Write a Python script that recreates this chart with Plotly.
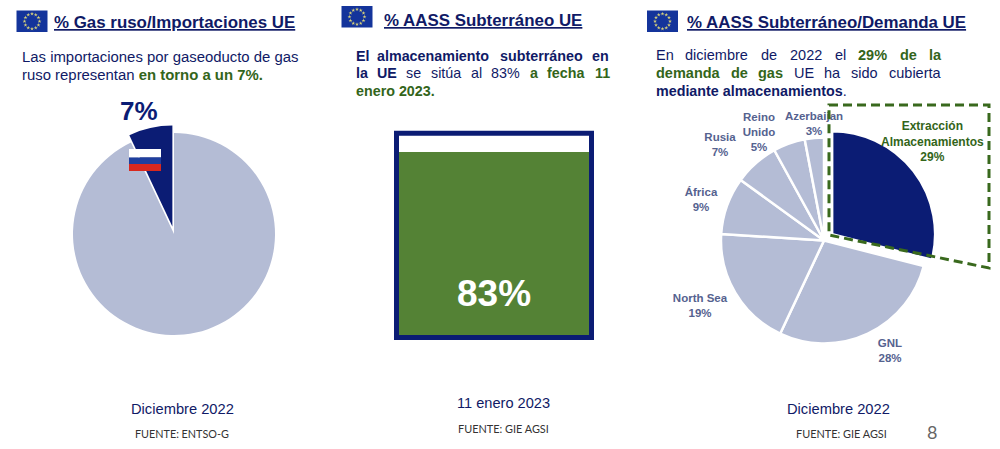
import math
import plotly.graph_objects as go

# ---- data
import_labels = ["Gas ruso", "Resto"]
import_values = [7, 93]
storage_label = ["AASS"]
storage_values = [83]
demand_labels = ["Extracción Almacenamientos", "GNL", "North Sea", "África", "Rusia", "Reino Unido", "Azerbaijan"]
demand_values = [29, 28, 19, 9, 7, 5, 3]

NAVY = "#0b1c74"
TEXTNAVY = "#101a66"
GREY = "#b4bcd5"
GREEN = "#548235"
TGREEN = "#33651a"
LABEL = "#55628f"
W, H = 1000, 449
SANS = "Liberation Sans"


def pie_domain(cx, cy, r, pull):
    half = r * (1 + pull)
    return dict(x=[(cx - half) / W, (cx + half) / W], y=[(H - cy - half) / H, (H - cy + half) / H])


fig = go.Figure()

# left pie
pull_l = 0.075
fig.add_trace(go.Pie(labels=import_labels, values=import_values, sort=False, direction="clockwise",
                     rotation=-import_values[0] * 3.6, pull=[pull_l, 0], textinfo="none", hoverinfo="label+percent",
                     marker=dict(colors=[NAVY, GREY], line=dict(width=0)),
                     domain=pie_domain(174, 234, 101, pull_l), showlegend=False))

# right pie
pull_r = 0.1
fig.add_trace(go.Pie(labels=demand_labels, values=demand_values, sort=False, direction="clockwise",
                     rotation=0, pull=[pull_r] + [0] * 6, textinfo="none", hoverinfo="label+percent",
                     marker=dict(colors=[NAVY] + [GREY] * 6, line=dict(color="white", width=2.5)),
                     domain=pie_domain(824, 240.5, 103, pull_r), showlegend=False))

# middle bar
fig.add_trace(go.Bar(x=storage_label, y=storage_values, width=1, marker=dict(color=GREEN, line=dict(width=0)),
                     xaxis="x", yaxis="y", showlegend=False))

# overlay text of pie labels (scatter so the dashed shape passes above it)
label_xy = {
    "GNL": (890, 352), "North Sea": (700, 307), "África": (701, 201), "Rusia": (720, 146),
    "Reino Unido": (759, 133), "Azerbaijan": (814, 125),
}
label_txt, label_x, label_y = [], [], []
for name, val in zip(demand_labels, demand_values):
    if name in label_xy:
        shown = "Reino<br>Unido" if name == "Reino Unido" else name
        label_txt.append(f"{shown}<br>{val}%")
        label_x.append(label_xy[name][0])
        label_y.append(label_xy[name][1])
fig.add_trace(go.Scatter(x=label_x, y=label_y, text=label_txt, mode="text", xaxis="x2", yaxis="y2",
                         textfont=dict(family=SANS, size=11.5, color=LABEL, weight="bold"),
                         textposition="middle center", showlegend=False, hoverinfo="skip"))

# EU flag stars
flags = [(16.5, 10.5), (341.5, 6), (647, 10.5)]
sx, sy = [], []
for fx, fy in flags:
    for k in range(12):
        a = math.radians(30 * k)
        sx.append(fx + 15.5 + 7.5 * math.cos(a))
        sy.append(fy + 10.8 + 7.5 * math.sin(a))
fig.add_trace(go.Scatter(x=sx, y=sy, mode="markers", xaxis="x2", yaxis="y2", showlegend=False, hoverinfo="skip",
                         marker=dict(symbol="star", size=3, color="#d8d27a", line=dict(width=0))))

shapes = []
for fx, fy in flags:
    shapes.append(dict(type="rect", xref="x2", yref="y2", x0=fx, x1=fx + 31, y0=fy, y1=fy + 21.5,
                       fillcolor="#14349b", line=dict(width=0), layer="below"))
# frame of the storage bar
shapes.append(dict(type="rect", xref="x2", yref="y2", x0=396.5, x1=591.5, y0=133.3, y1=337.5,
                   line=dict(color=NAVY, width=5), fillcolor="rgba(0,0,0,0)", layer="above"))
# Russian flag
for y0, y1, c in [(149, 157.5, "white"), (157.5, 164, "#1f3f9e"), (164, 171, "#d8281e")]:
    shapes.append(dict(type="rect", xref="x2", yref="y2", x0=129, x1=161, y0=y0, y1=y1,
                       fillcolor=c, line=dict(width=0), layer="above"))
# dashed callout
shapes.append(dict(type="path", xref="x2", yref="y2", path="M 829 105 L 989 105 L 989 268 L 829 235 Z",
                   line=dict(color="#39691d", width=3, dash="9px,5px"), layer="above"))

ann = []


def txt(x, y, s, size=14.9, color=TEXTNAVY, anchor="left", family=SANS):
    ann.append(dict(xref="x2", yref="y2", x=x, y=y, text=s, showarrow=False, xanchor=anchor, yanchor="middle",
                    font=dict(family=family, size=size, color=color), borderpad=0, borderwidth=0))


def gr(s):
    return f'<span style="color:{TGREEN}">{s}</span>'


# titles
txt(54, 22, "<b><u>% Gas ruso/Importaciones UE</u></b>", 16.9)
txt(384, 20, "<b><u>% AASS Subterráneo UE</u></b>", 16.9)
txt(687, 22, "<b><u>% AASS Subterráneo/Demanda UE</u></b>", 16.9)

# left text
txt(22, 57, "Las importaciones por gaseoducto de gas")
txt(22, 75, "ruso representan " + gr("<b>en torno a un 7%.</b>"))

# middle text (justified: word by word)
for x, w in [(356, "<b>El</b>"), (377, "<b>almacenamiento</b>"), (500, "<b>subterráneo</b>"), (592, "<b>en</b>")]:
    txt(x, 56, w, 14.3)
for x, w in [(356, "<b>la</b>"), (377, "<b>UE</b>"), (406, "se"), (431, "sitúa"), (471, "al"), (491, "83%"),
             (530, gr("<b>a</b>")), (547, gr("<b>fecha</b>")), (595, gr("<b>11</b>"))]:
    txt(x, 73, w, 14.3)
txt(356, 91, gr("<b>enero 2023.</b>"), 14.3)

# right text
for x, w in [(656, "En"), (685, "diciembre"), (761, "de"), (790, "2022"), (835, "el"), (858, gr("<b>29%</b>")),
             (900, gr("<b>de</b>")), (929, gr("<b>la</b>"))]:
    txt(x, 55, w, 14.5)
for x, w in [(656, gr("<b>demanda</b>")), (731, gr("<b>de</b>")), (758, gr("<b>gas</b>")), (794, "UE"), (824, "ha"),
             (851, "sido"), (889, "cubierta")]:
    txt(x, 73, w, 14.5)
txt(656, 91, "<b>mediante almacenamientos</b>.", 14.3)

# big values
txt(139, 111, f"<b>{import_values[0]}%</b>", 26, NAVY, "center")
txt(494, 293, f"<b>{storage_values[0]}%</b>", 37, "white", "center")

# callout label
txt(932, 141, f"<b>Extracción<br>Almacenamientos<br>{demand_values[0]}%</b>", 12, TGREEN, "center")

# footers
txt(182, 409, "Diciembre 2022", 14.7, TEXTNAVY, "center")
txt(503.5, 403, "11 enero 2023", 14.6, TEXTNAVY, "center")
txt(838, 409, "Diciembre 2022", 14.7, TEXTNAVY, "center")
txt(181.5, 433, "FUENTE: ENTSO-G", 10.8, "#333333", "center", "Lato")
txt(503.5, 428, "FUENTE: GIE AGSI", 10.9, "#333333", "center", "Lato")
txt(841.5, 433, "FUENTE: GIE AGSI", 10.9, "#333333", "center", "Lato")
txt(932, 432, "8", 18, "#666666", "center", "Lato")

fig.update_layout(
    width=W, height=H, margin=dict(l=0, r=0, t=0, b=0), paper_bgcolor="white", plot_bgcolor="rgba(0,0,0,0)",
    bargap=0, shapes=shapes, annotations=ann, showlegend=False,
    xaxis=dict(domain=[399 / W, 589 / W], visible=False, fixedrange=True),
    yaxis=dict(domain=[(H - 335) / H, (H - 135) / H], range=[0, 90.7], visible=False, fixedrange=True),
    xaxis2=dict(domain=[0, 1], range=[0, W], visible=False, fixedrange=True, anchor="y2"),
    yaxis2=dict(domain=[0, 1], range=[H, 0], visible=False, fixedrange=True, anchor="x2"),
)
fig.write_html("out.html", config={"displayModeBar": False},
               post_script="document.body.style.margin='0';document.documentElement.style.overflow='hidden';")
